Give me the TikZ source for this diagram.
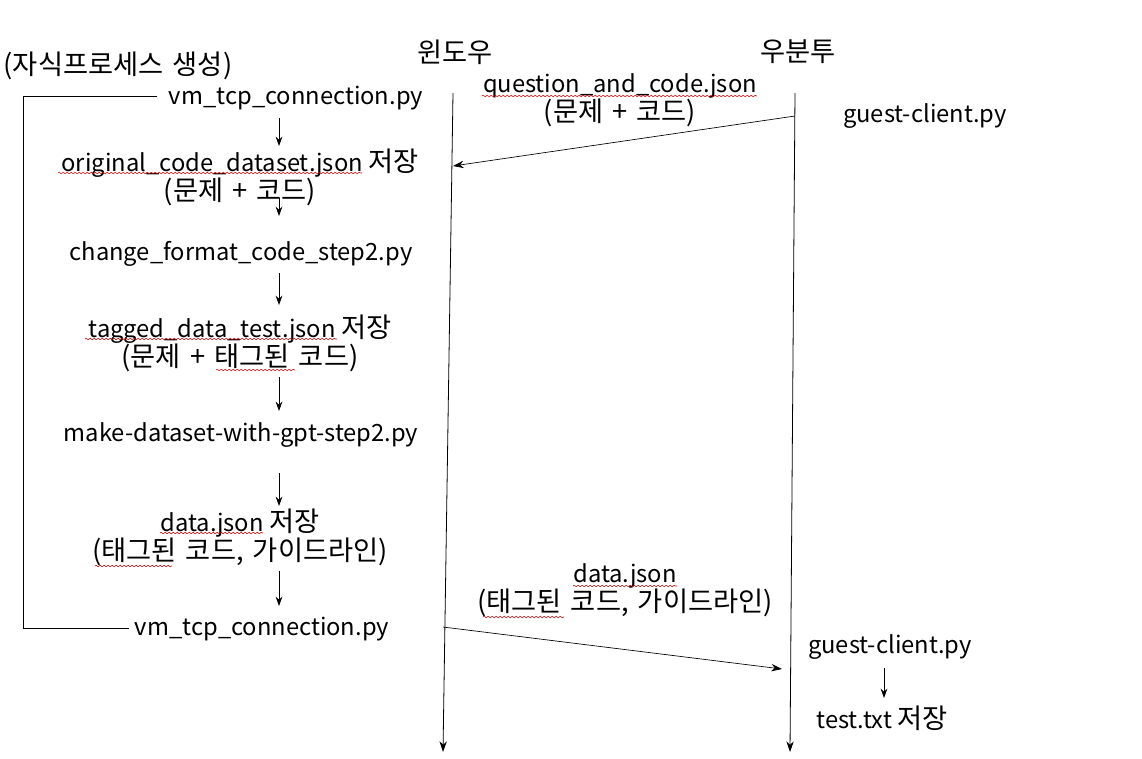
\documentclass[tikz,border=0pt]{standalone}
\usepackage{fontspec}
\setmainfont{Noto Sans CJK KR}
\newfontfamily\krf[Scale=1.15,WordSpace=1.5]{Noto Sans CJK KR}
\newcommand\K[1]{{\krf #1}}
\usetikzlibrary{arrows.meta,decorations.pathmorphing}
\begin{document}
\begin{tikzpicture}[x=0.75pt,y=-0.75pt,
  lbl/.style={inner sep=0pt,font=\fontsize{17.8}{21.75}\selectfont,align=center},
  flow/.style={-{Stealth[length=7pt,width=5pt]},line width=0.6pt},
  life/.style={-{Stealth[length=8pt,width=5.5pt]},line width=0.6pt},
  msg/.style={-{Stealth[length=8pt,width=5.5pt]},line width=0.5pt},
  wavy/.style={red!80!black,line width=0.4pt,decorate,decoration={snake,amplitude=0.6pt,segment length=3pt}}]
\useasboundingbox (0,0) rectangle (1142,758);
% headers
\node[lbl] (win) at (455,52) {\K{윈도우}};
\node[lbl] (ubu) at (798,52) {\K{우분투}};
\node[lbl] (child) at (118,66) {\K{(자식프로세스 생성)}};
% lifelines
\coordinate (wtop) at (453,93);
\coordinate (wbot) at (443,752);
\coordinate (utop) at (795,93);
\coordinate (ubot) at (790,752);
\draw[life] (wtop) -- (wbot);
\draw[life] (utop) -- (ubot);
% left flow
\node[lbl] (vm1) at (296,98) {vm\_tcp\_connection.py};
\node[lbl] (orig) at (240,177) {original\_code\_dataset.json \K{저장}\\\K{(문제 + 코드)}};
\node[lbl] (chg) at (241,254) {change\_format\_code\_step2.py};
\node[lbl] (tag) at (240,343) {tagged\_data\_test.json \K{저장}\\\K{(문제 + 태그된 코드)}};
\node[lbl] (mk) at (241,435) {make-dataset-with-gpt-step2.py};
\node[lbl] (data) at (240,537) {data.json \K{저장}\\\K{(태그된 코드, 가이드라인)}};
\node[lbl] (vm2) at (262,629) {vm\_tcp\_connection.py};
\coordinate (a1s) at (279,118); \coordinate (a1e) at (279,146);
\coordinate (a2s) at (279,198); \coordinate (a2e) at (279,216);
\coordinate (a3s) at (279,273); \coordinate (a3e) at (279,305);
\coordinate (a4s) at (279,377); \coordinate (a4e) at (279,411);
\coordinate (a5s) at (279,473); \coordinate (a5e) at (279,506);
\coordinate (a6s) at (279,571); \coordinate (a6e) at (279,606);
\draw[flow] (a1s) -- (a1e);
\draw[flow] (a2s) -- (a2e);
\draw[flow] (a3s) -- (a3e);
\draw[flow] (a4s) -- (a4e);
\draw[flow] (a5s) -- (a5e);
\draw[flow] (a6s) -- (a6e);
% bracket
\coordinate (b1) at (157,96);
\coordinate (b2) at (129,628);
\draw[line width=0.6pt] (b1) -- (23,96) -- (23,628) -- (b2);
% messages
\node[lbl] (q) at (620,100) {question\_and\_code.json\\\K{(문제 + 코드)}};
\coordinate (m1s) at (795,116);
\coordinate (m1e) at (453,166);
\draw[msg] (m1s) -- (m1e);
\node[lbl] (gc1) at (925,116) {guest-client.py};
\node[lbl] (d2) at (625,590) {data.json\\\K{(태그된 코드, 가이드라인)}};
\coordinate (m2s) at (443,627);
\coordinate (m2e) at (782,669);
\draw[msg] (m2s) -- (m2e);
\node[lbl] (gc2) at (890,647) {guest-client.py};
\node[lbl] (test) at (882,718) {test.txt \K{저장}};
\coordinate (a7s) at (884,668); \coordinate (a7e) at (884,698);
\draw[flow] (a7s) -- (a7e);
% spell-check underlines
\draw[wavy] (58,173) -- (362,173);
\draw[wavy] (482,96) -- (757,96);
\draw[wavy] (85,339) -- (337,339);
\draw[wavy] (216,370) -- (295,370);
\draw[wavy] (160,533) -- (263,533);
\draw[wavy] (95,566) -- (172,566);
\draw[wavy] (573,586) -- (677,586);
\draw[wavy] (483,617) -- (564,617);
\end{tikzpicture}
\end{document}
